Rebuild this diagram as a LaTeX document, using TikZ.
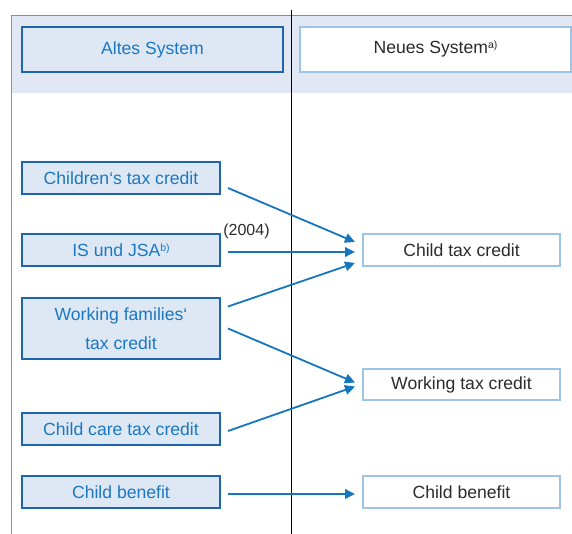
\documentclass[tikz,border=0pt]{standalone}
\usepackage{fontspec}
\setmainfont{Liberation Sans}
\usetikzlibrary{arrows.meta, positioning}

\definecolor{bandfill}{HTML}{E1E8F4}
\definecolor{framecol}{HTML}{7B8EC8}
\definecolor{oldfill}{HTML}{DEE7F4}
\definecolor{olddraw}{HTML}{1E64B0}
\definecolor{oldtext}{HTML}{1A78C2}
\definecolor{newdraw}{HTML}{9DC3E6}
\definecolor{newtext}{HTML}{2B2B2B}
\definecolor{arrowcol}{HTML}{1476BE}

% raised footnote marks
\newcommand{\hochz}[1]{\raisebox{5pt}{\fontsize{10.5}{12}\selectfont #1}}

\begin{document}
\begin{tikzpicture}[
    x=1pt, y=-1pt,
    base/.style={rectangle, inner sep=2pt, outer sep=0pt, align=center, font=\fontsize{17.6}{29}\selectfont, minimum height=32pt},
    head/.style={base, minimum height=45pt},
    oldbox/.style={base, fill=oldfill, draw=olddraw, line width=1.3pt, text=oldtext, minimum width=198pt},
    newbox/.style={base, fill=white, draw=newdraw, line width=1.3pt, text=newtext, minimum width=197pt},
    arrow/.style={-{Triangle[length=10pt, width=9.5pt]}, line width=1.8pt, draw=arrowcol}
]
    \useasboundingbox (0,0) rectangle (572,534);

    % --- Frame ---
    \fill[bandfill] (11.7,16) rectangle (572,93);
    \draw[framecol, line width=1pt] (11.7,534) -- (11.7,16) -- (572,16);

    % --- Headers ---
    \node[head, fill=oldfill, draw=olddraw, line width=1.3pt, text=oldtext, minimum width=261pt] (altes) at (152.5,49.5) {Altes System};
    \node[head, fill=white, draw=newdraw, line width=1.3pt, text=newtext, minimum width=271pt, right=17pt of altes] (neues) {Neues System\hochz{a)}};

    % --- Old benefits ---
    \node[oldbox] (ctcold) at (121,178) {Children‘s tax credit};
    \node[oldbox, below=40pt of ctcold] (isold) {IS und JSA\hochz{b)}};
    \node[oldbox, below=32pt of isold, minimum height=61pt] (wftc) {Working families‘\\tax credit};
    \node[oldbox, below=54pt of wftc] (cctc) {Child care tax credit};
    \node[oldbox, below=31pt of cctc] (cbold) {Child benefit};

    % --- New benefits ---
    \node[newbox, right=143pt of isold] (ctcnew) {Child tax credit};
    \node[newbox, below=103pt of ctcnew, minimum height=31pt] (wtcnew) {Working tax credit};
    \node[newbox, right=143pt of cbold] (cbnew) {Child benefit};

    % divider
    \draw[black, line width=0.8pt] (291,10) -- (291,534);

    \node[text=newtext, font=\fontsize{16}{18}\selectfont, inner sep=0pt] (year) at ([shift={(26.5pt,18.5pt)}]isold.east) {(2004)};

    % --- Connections ---
    \draw[arrow] ([shift={(8pt,-10pt)}]ctcold.east) -- ([shift={(-8pt,8pt)}]ctcnew.west);
    \draw[arrow] ([shift={(8pt,-2pt)}]isold.east) -- ([shift={(-8pt,-2pt)}]ctcnew.west);
    \draw[arrow] ([shift={(8pt,22pt)}]wftc.east) -- ([shift={(-8pt,-13pt)}]ctcnew.west);

    \draw[arrow] ([shift={(8pt,0pt)}]wftc.east) -- ([shift={(-8pt,2pt)}]wtcnew.west);
    \draw[arrow] ([shift={(8pt,-2pt)}]cctc.east) -- ([shift={(-8pt,-2pt)}]wtcnew.west);

    \draw[arrow] ([shift={(8pt,-2pt)}]cbold.east) -- ([shift={(-8pt,-2pt)}]cbnew.west);

\end{tikzpicture}
\end{document}
